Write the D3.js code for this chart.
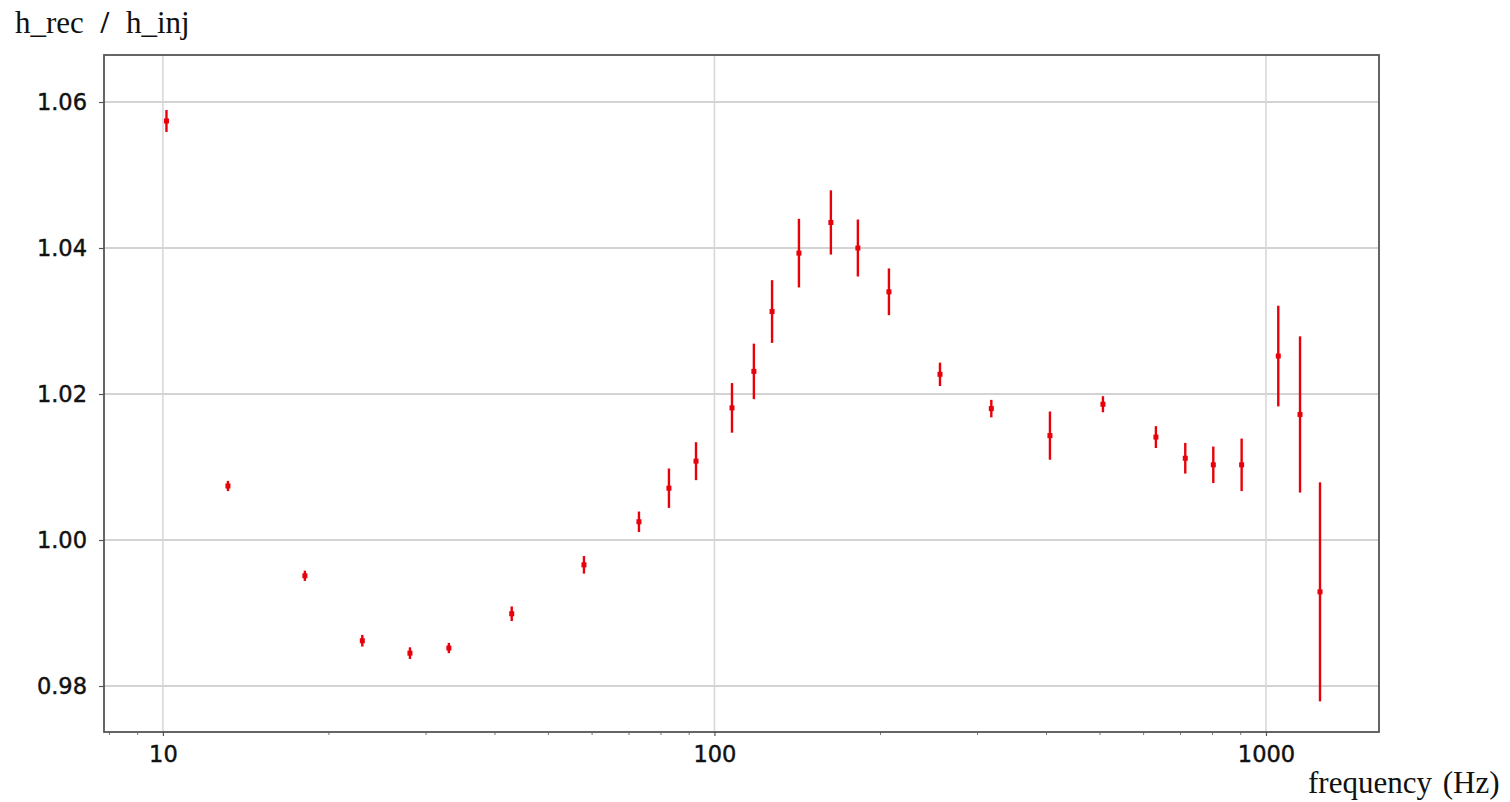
<!DOCTYPE html>
<html>
<head>
<meta charset="utf-8">
<script src="https://cdn.jsdelivr.net/npm/d3@7"></script>
<style>
  body { margin: 0; background: #fff; }
  .tick text { font-family: "DejaVu Sans", sans-serif; font-size: 22.5px; fill: #111; stroke: #111; stroke-width: 0.45px; }
  .lbl { font-family: "Liberation Serif", serif; font-size: 31px; fill: #111; }
</style>
</head>
<body>
<div id="chart"></div>
<script>
// frequency (Hz), ratio, error (half width)
var freq  = [10.15, 13.12, 18.09, 22.99, 28.05, 33.0, 42.9, 58.0, 72.97, 82.7, 92.6,
             107.6, 117.9, 127.2, 142.3, 162.6, 182.0, 207.2, 256.4, 317.7, 405.8, 506.3,
             631.6, 714.0, 802.6, 903.4, 1052.7, 1152.8, 1253];
var ratio = [1.0574, 1.0074, 0.9951, 0.9862, 0.9845, 0.9852, 0.9899, 0.9966, 1.0025, 1.0071, 1.0108,
             1.0181, 1.0231, 1.0313, 1.0393, 1.0435, 1.0400, 1.0340, 1.0227, 1.0180, 1.0143, 1.0186,
             1.0141, 1.0112, 1.0103, 1.0103, 1.0252, 1.0172, 0.9929];
var err   = [0.0015, 0.0007, 0.0007, 0.0008, 0.0008, 0.0007, 0.0010, 0.0012, 0.0014, 0.0027, 0.0026,
             0.0034, 0.0038, 0.0043, 0.0047, 0.0044, 0.0039, 0.0032, 0.0016, 0.0012, 0.0033, 0.0011,
             0.0015, 0.0021, 0.0025, 0.0036, 0.0069, 0.0107, 0.0150];
var xTicks = [10, 100, 1000];
var yTicks = [0.98, 1.00, 1.02, 1.04, 1.06];

var W = 1510, H = 802;
var margin = {left: 104, top: 55, right: 131, bottom: 70};
var width = W - margin.left - margin.right;
var height = H - margin.top - margin.bottom;

var svg = d3.select("#chart").append("svg")
    .attr("width", W)
    .attr("height", H);

var g = svg.append("g")
    .attr("transform", `translate(${margin.left},${margin.top})`);

var x = d3.scaleLog().domain([7.82, 1603]).range([0, width]);
var y = d3.scaleLinear().domain([0.9737, 1.06644]).range([height, 0]);

// gridlines
g.append("g").selectAll("line").data(yTicks).enter().append("line")
    .attr("x1", 0).attr("x2", width)
    .attr("y1", d => y(d)).attr("y2", d => y(d))
    .attr("stroke", "#c4c4c4").attr("stroke-width", 1.5);
g.append("g").selectAll("line").data(xTicks).enter().append("line")
    .attr("y1", 0).attr("y2", height)
    .attr("x1", d => x(d)).attr("x2", d => x(d))
    .attr("stroke", "#d6d6d6").attr("stroke-width", 1.5);

// minor ticks on x
var minor = [];
[1, 10, 100, 1000].forEach(function(dec) {
    for (var k = 1; k <= 9; k++) {
        var v = dec * k;
        if (v > 7.82 && v < 1603 && xTicks.indexOf(v) < 0) minor.push(v);
    }
});
g.append("g").selectAll("line").data(minor).enter().append("line")
    .attr("x1", d => x(d)).attr("x2", d => x(d))
    .attr("y1", height).attr("y2", height + 3)
    .attr("stroke", "#777").attr("stroke-width", 1);

var xAxis = d3.axisBottom(x).tickValues(xTicks).tickFormat(d3.format("d"))
    .tickSize(4).tickPadding(10);
var yAxis = d3.axisLeft(y).tickValues(yTicks).tickFormat(d3.format(".2f"))
    .tickSize(5).tickPadding(12);

var gx = g.append("g").attr("transform", `translate(0,${height})`).call(xAxis);
var gy = g.append("g").call(yAxis);
[gx, gy].forEach(function(a) {
    a.select(".domain").remove();
    a.selectAll(".tick line").attr("stroke", "#555").attr("stroke-width", 1.2);
});

// frame
g.append("rect")
    .attr("x", 0).attr("y", 0).attr("width", width).attr("height", height)
    .attr("fill", "none").attr("stroke", "#555").attr("stroke-width", 1.8);

// data
var data = freq.map(function(f, i) { return {f: f, v: ratio[i], e: err[i]}; });
var red = "#e8000a";

g.append("g").selectAll("line").data(data).enter().append("line")
    .attr("x1", d => x(d.f)).attr("x2", d => x(d.f))
    .attr("y1", d => y(d.v + d.e)).attr("y2", d => y(d.v - d.e))
    .attr("stroke", red).attr("stroke-width", 2.4);

g.append("g").selectAll("rect").data(data).enter().append("rect")
    .attr("x", d => x(d.f) - 2.5).attr("y", d => y(d.v) - 2.5)
    .attr("width", 5).attr("height", 5)
    .attr("fill", red);

// labels
var yl = svg.append("text").attr("class", "lbl")
    .attr("x", 15).attr("y", 33)
    .attr("word-spacing", "9px");
yl.append("tspan").text("h_rec ");
yl.append("tspan").attr("font-weight", "bold").text("/");
yl.append("tspan").text(" h_inj");

svg.append("text").attr("class", "lbl")
    .attr("x", 1308).attr("y", 793)
    .attr("word-spacing", "3px")
    .text("frequency (Hz)");
</script>
</body>
</html>
